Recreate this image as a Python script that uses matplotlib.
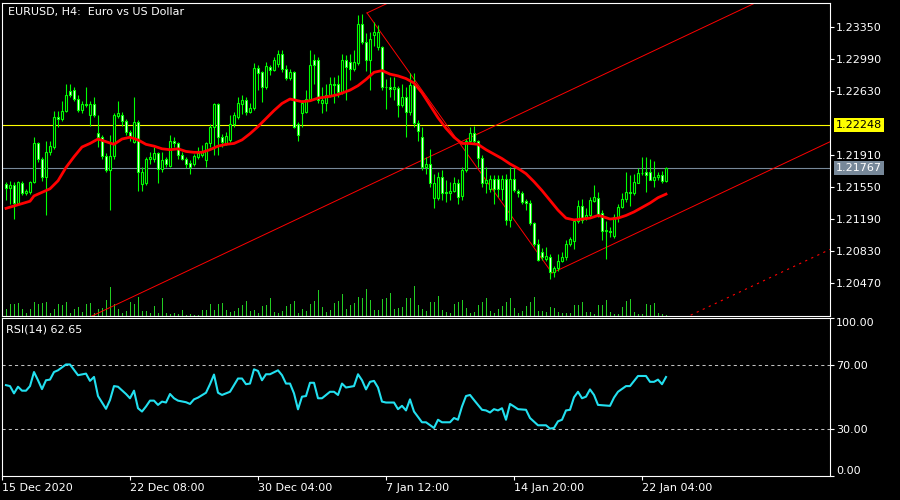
import numpy as np
import matplotlib.pyplot as plt
from matplotlib.transforms import blended_transform_factory

# EURUSD H4 candles, one row per bar (open, close, high, low) in pips of 1.0000
ohlc_pips = [
    (12158, 12154, 12161, 12140), (12154, 12157, 12162, 12136), (12157, 12137, 12161, 12119),
    (12137, 12161, 12162, 12135), (12160, 12148, 12162, 12146), (12148, 12150, 12153, 12146),
    (12149, 12161, 12162, 12147), (12161, 12205, 12211, 12159), (12205, 12186, 12206, 12183),
    (12186, 12166, 12189, 12162), (12166, 12194, 12207, 12123), (12194, 12201, 12207, 12191),
    (12200, 12234, 12241, 12198), (12234, 12231, 12241, 12222), (12231, 12241, 12252, 12229),
    (12241, 12258, 12271, 12239), (12263, 12259, 12271, 12256), (12264, 12254, 12268, 12252),
    (12254, 12242, 12258, 12239), (12242, 12248, 12252, 12238), (12248, 12247, 12268, 12245),
    (12236, 12248, 12252, 12224), (12248, 12236, 12256, 12234), (12216, 12211, 12236, 12200),
    (12211, 12190, 12213, 12186), (12190, 12174, 12193, 12172), (12174, 12190, 12213, 12129),
    (12190, 12236, 12238, 12187), (12235, 12238, 12252, 12233), (12236, 12229, 12239, 12224),
    (12229, 12217, 12232, 12213), (12217, 12211, 12219, 12207), (12206, 12228, 12256, 12204),
    (12228, 12172, 12230, 12151), (12158, 12172, 12177, 12150), (12159, 12186, 12189, 12157),
    (12186, 12189, 12194, 12181), (12186, 12193, 12200, 12183), (12193, 12175, 12194, 12159),
    (12175, 12185, 12194, 12172), (12186, 12181, 12189, 12178), (12179, 12207, 12213, 12178),
    (12207, 12204, 12211, 12200), (12204, 12191, 12206, 12187), (12191, 12187, 12194, 12185),
    (12187, 12181, 12189, 12176), (12182, 12178, 12185, 12170), (12181, 12190, 12192, 12179),
    (12189, 12193, 12200, 12187), (12191, 12194, 12202, 12189), (12185, 12204, 12206, 12178),
    (12204, 12223, 12226, 12200), (12223, 12248, 12249, 12191), (12248, 12211, 12249, 12191),
    (12211, 12206, 12215, 12200), (12205, 12212, 12217, 12202), (12208, 12226, 12236, 12206),
    (12226, 12236, 12239, 12223), (12234, 12249, 12256, 12232), (12248, 12253, 12258, 12237),
    (12253, 12239, 12256, 12236), (12239, 12244, 12249, 12238), (12244, 12289, 12294, 12242),
    (12289, 12283, 12292, 12264), (12284, 12267, 12286, 12251), (12267, 12291, 12296, 12265),
    (12290, 12287, 12292, 12281), (12287, 12298, 12301, 12286), (12293, 12305, 12309, 12290),
    (12305, 12288, 12309, 12284), (12288, 12278, 12292, 12275), (12278, 12284, 12288, 12275),
    (12284, 12223, 12286, 12221), (12226, 12214, 12228, 12207), (12238, 12249, 12253, 12223),
    (12239, 12254, 12264, 12238), (12254, 12292, 12309, 12253), (12298, 12292, 12305, 12271),
    (12298, 12253, 12301, 12249), (12249, 12253, 12267, 12238), (12249, 12258, 12271, 12241),
    (12258, 12271, 12279, 12256), (12271, 12270, 12279, 12249), (12271, 12262, 12281, 12256),
    (12262, 12298, 12305, 12260), (12298, 12290, 12303, 12253), (12296, 12288, 12305, 12275),
    (12288, 12296, 12309, 12286), (12295, 12338, 12348, 12292), (12338, 12318, 12350, 12316),
    (12318, 12298, 12328, 12286), (12298, 12322, 12329, 12264), (12326, 12329, 12341, 12314),
    (12312, 12329, 12337, 12309), (12312, 12268, 12314, 12264), (12267, 12267, 12277, 12243),
    (12267, 12265, 12279, 12256), (12265, 12268, 12279, 12253), (12266, 12247, 12269, 12234),
    (12247, 12256, 12271, 12245), (12256, 12239, 12267, 12211), (12239, 12270, 12283, 12236),
    (12270, 12227, 12283, 12223), (12227, 12218, 12230, 12207), (12211, 12177, 12223, 12174),
    (12177, 12181, 12189, 12170), (12181, 12159, 12198, 12155), (12143, 12159, 12170, 12131),
    (12143, 12166, 12172, 12140), (12166, 12148, 12174, 12140), (12149, 12148, 12163, 12138),
    (12148, 12151, 12161, 12140), (12151, 12160, 12166, 12149), (12160, 12144, 12164, 12136),
    (12145, 12174, 12177, 12140), (12174, 12207, 12209, 12172), (12207, 12216, 12222, 12206),
    (12216, 12207, 12224, 12204), (12207, 12188, 12208, 12177), (12188, 12160, 12191, 12155),
    (12160, 12163, 12177, 12148), (12153, 12164, 12168, 12149), (12164, 12153, 12168, 12136),
    (12164, 12153, 12168, 12144), (12153, 12164, 12168, 12140), (12164, 12118, 12170, 12112),
    (12118, 12164, 12177, 12110), (12164, 12152, 12176, 12149), (12151, 12148, 12153, 12144),
    (12148, 12138, 12151, 12136), (12139, 12137, 12142, 12129), (12137, 12114, 12140, 12112),
    (12114, 12091, 12116, 12089), (12091, 12073, 12097, 12072), (12082, 12076, 12086, 12073),
    (12074, 12077, 12087, 12072), (12076, 12059, 12080, 12052), (12059, 12064, 12066, 12054),
    (12064, 12072, 12080, 12061), (12072, 12076, 12082, 12071), (12076, 12091, 12095, 12073),
    (12091, 12096, 12099, 12089), (12094, 12117, 12119, 12085), (12117, 12134, 12140, 12114),
    (12134, 12118, 12142, 12114), (12121, 12124, 12131, 12118), (12124, 12140, 12144, 12121),
    (12139, 12144, 12157, 12138), (12143, 12125, 12149, 12121), (12126, 12106, 12129, 12095),
    (12106, 12106, 12117, 12074), (12106, 12104, 12110, 12099), (12100, 12121, 12125, 12098),
    (12121, 12133, 12136, 12116), (12132, 12141, 12148, 12131), (12141, 12149, 12172, 12138),
    (12149, 12148, 12168, 12134), (12148, 12161, 12170, 12146), (12160, 12171, 12176, 12159),
    (12171, 12171, 12189, 12168), (12172, 12169, 12189, 12149), (12172, 12163, 12186, 12163),
    (12163, 12166, 12184, 12155), (12166, 12169, 12172, 12163), (12169, 12162, 12173, 12160),
    (12162, 12176.7, 12177, 12161),
]

tick_volume = [
    7, 12, 12, 13, 7, 3, 7, 14, 12, 13,
    14, 3, 7, 12, 11, 14, 3, 7, 9, 4,
    12, 13, 3, 7, 8, 16, 29, 12, 7, 3,
    5, 14, 12, 19, 5, 5, 3, 10, 3, 18,
    3, 2, 3, 2, 6, 1, 2, 1, 1, 6,
    6, 12, 6, 12, 13, 6, 4, 5, 8, 11,
    15, 5, 6, 3, 10, 11, 18, 4, 3, 5,
    10, 12, 15, 3, 7, 5, 12, 15, 26, 9,
    4, 6, 13, 15, 22, 7, 11, 13, 19, 18,
    27, 16, 6, 6, 17, 18, 23, 7, 8, 9,
    18, 18, 30, 11, 7, 5, 14, 14, 20, 6,
    4, 3, 12, 14, 16, 8, 3, 4, 11, 14,
    18, 5, 3, 7, 10, 14, 18, 8, 3, 5,
    10, 14, 19, 5, 5, 4, 9, 8, 4, 3,
    3, 3, 11, 11, 14, 4, 4, 2, 11, 11,
    16, 4, 2, 2, 9, 15, 17, 4, 2, 2,
    12, 11, 13, 3, 2, 1,
]

# moving average (red line)
ma_bar = [0, 3, 6, 7, 9, 11, 13, 15, 17, 19, 21, 23, 25, 27, 29, 31, 33, 35, 37, 39,
          41, 43, 45, 47, 49, 51, 53, 55, 57, 59, 61, 63, 65, 67, 69, 71, 73, 74, 76, 78,
          81, 83, 86, 88, 90, 92, 94, 96, 98, 100, 102, 104, 106, 108, 110, 112, 114, 116,
          118, 120, 122, 124, 126, 128, 130, 132, 134, 136, 138, 140, 142, 144, 146, 148,
          149, 151, 153, 155, 157, 159, 161, 163, 165]
ma_pips = [12131, 12135, 12139, 12145, 12149, 12153, 12162, 12177, 12189, 12200, 12204, 12209,
           12206, 12203, 12209, 12211, 12208, 12203, 12201, 12198, 12197, 12198, 12195, 12194,
           12194, 12197, 12201, 12203, 12204, 12208, 12215, 12223, 12232, 12241, 12249, 12254,
           12252, 12251, 12252, 12255, 12257, 12259, 12264, 12269, 12276, 12284, 12286, 12282,
           12280, 12277, 12272, 12261, 12247, 12233, 12221, 12211, 12204, 12204, 12203, 12197,
           12192, 12187, 12181, 12176, 12170, 12161, 12151, 12140, 12129, 12120, 12118, 12119,
           12120, 12123, 12122, 12119, 12120, 12123, 12127, 12132, 12137, 12143, 12147]

rsi_bar = [0, 1, 2, 3, 4, 5, 6, 7, 8, 9, 10, 11, 12, 13, 15, 16, 18, 20, 21, 22, 23, 25, 26,
           27, 28, 30, 31, 32, 33, 34, 35, 36, 37, 38, 39, 40, 41, 42, 43, 45, 46, 47, 48, 50,
           51, 52, 53, 54, 56, 57, 58, 59, 60, 61, 62, 63, 64, 65, 66, 68, 69, 70, 71, 72, 73,
           74, 75, 76, 77, 78, 79, 81, 82, 83, 84, 85, 87, 88, 89, 90, 91, 92, 93, 94, 95, 97,
           98, 99, 100, 101, 102, 104, 105, 107, 108, 109, 111, 112, 113, 114, 115, 116, 117,
           119, 120, 121, 122, 123, 124, 125, 126, 127, 128, 130, 131, 133, 135, 136, 137, 138,
           139, 140, 141, 142, 143, 144, 145, 146, 147, 148, 151, 152, 153, 155, 156, 158, 160,
           161, 162, 163, 164, 165]
rsi_val = [57.5, 56.9, 52.3, 56.5, 54.0, 54.0, 56.9, 65.8, 60.6, 55.0, 60.6, 61.0, 65.8, 66.9,
           70.6, 70.6, 63.8, 64.8, 60.2, 62.7, 50.6, 42.5, 48.1, 56.9, 56.5, 51.9, 49.2, 54.0,
           42.9, 40.8, 44.0, 47.7, 47.7, 45.0, 47.1, 46.5, 51.9, 49.2, 47.7, 46.7, 45.6, 48.5,
           49.6, 52.7, 58.1, 64.2, 52.7, 51.3, 53.3, 57.5, 61.7, 61.7, 58.1, 58.5, 67.5, 66.5,
           60.6, 64.4, 64.4, 66.9, 63.8, 58.5, 58.5, 52.3, 42.2, 50.2, 50.6, 59.0, 59.0, 49.2,
           49.2, 53.3, 53.3, 51.3, 58.5, 56.0, 56.9, 64.4, 60.6, 54.8, 59.6, 60.2, 56.0, 47.1,
           46.5, 46.5, 42.3, 44.4, 41.5, 48.5, 40.8, 34.0, 34.0, 30.4, 35.6, 34.0, 34.0, 36.7,
           35.6, 44.0, 50.6, 51.3, 48.1, 41.9, 41.5, 40.2, 42.3, 41.5, 42.9, 35.6, 45.6, 44.0,
           42.3, 41.9, 36.7, 32.1, 32.1, 30.0, 30.4, 34.6, 35.6, 41.5, 41.9, 49.8, 53.3, 49.2,
           50.2, 54.8, 51.3, 45.0, 44.4, 49.6, 53.3, 56.9, 56.9, 63.3, 63.3, 59.6, 59.6, 61.0,
           58.1, 62.65]

# price channel objects: (start bar, start price), slope per bar
channel_slope = 0.0002124
channel_lines = [(90.25, 1.23508), (-1.0, 1.19621), (136.5, 1.20583)]
channel_dotted = (136.5, 1.19372)
diag_bar = [90.25, 136.5]
diag_price = [1.23508, 1.20583]

level_price = 1.22248
price_ticks = [1.23350, 1.22990, 1.22630, 1.21910, 1.21550, 1.21190, 1.20830, 1.20470]
date_bar = [-1, 31, 63, 95, 127, 159]
date_labels = ['15 Dec 2020', '22 Dec 08:00', '30 Dec 04:00', '7 Jan 12:00',
               '14 Jan 20:00', '22 Jan 04:00']

o, c, h, l = (np.array(col) / 10000 for col in zip(*ohlc_pips))
bars = np.arange(len(c))
last = c[-1]

GREEN = '#00ff00'
plt.rcParams['font.family'] = ['DejaVu Sans']


def box(x0, y0, x1, y1):
    return [x0 / 900, 1 - y1 / 500, (x1 - x0) / 900, (y1 - y0) / 500]


fig = plt.figure(figsize=(9, 5), dpi=100, facecolor='black')
vol_ax = fig.add_axes(box(2, 3, 830, 316))
ax = fig.add_axes(box(2, 3, 830, 316), sharex=vol_ax)
rsi_ax = fig.add_axes(box(2, 318, 830, 476), sharex=vol_ax)

vol_ax.set_facecolor('black')
vol_ax.bar(bars, tick_volume, width=0.25, color='#22cc22', linewidth=0)
vol_ax.set_ylim(0, 313)
vol_ax.axis('off')

ax.patch.set_alpha(0)
ax.axhline(level_price, color='#ffff00', lw=0.8, zorder=1)
ax.axhline(last, color='#778899', lw=0.8, zorder=1)

xr = 206
for b0, p0 in channel_lines:
    ax.plot([b0, xr], [p0, p0 + channel_slope * (xr - b0)], color='red', lw=0.7, zorder=2)
b0, p0 = channel_dotted
ax.plot([b0, xr], [p0, p0 + channel_slope * (xr - b0)], color='red', lw=0.8,
        ls=(0, (2, 4)), zorder=2)
ax.plot(diag_bar, diag_price, color='red', lw=0.7, zorder=2)

ax.vlines(bars, l, h, colors=GREEN, lw=0.8, zorder=3)
fills = np.where(c >= o, 'black', 'white')
ax.bar(bars, np.maximum(np.abs(c - o), 0.00002), bottom=np.minimum(o, c), width=0.6,
       color=fills, edgecolor=GREEN, linewidth=0.8, zorder=4)
ax.plot(ma_bar, np.array(ma_pips) / 10000, color='red', lw=2.0, zorder=5)

ax.set_xlim(-1, 206)
ax.set_ylim(1.20099, 1.23620)
ax.yaxis.tick_right()
ax.set_yticks(price_ticks, [f'{p:.5f}' for p in price_ticks])
ax.tick_params(axis='y', colors='white', length=3, width=0.8, pad=1.5, labelsize=8)
ax.tick_params(axis='x', bottom=False, labelbottom=False)

trans = blended_transform_factory(ax.transAxes, ax.transData)
ax.text(1.0072, level_price, f'{level_price:.5f}', transform=trans, color='black', fontsize=8,
        va='center', ha='left', clip_on=False, zorder=10,
        bbox=dict(boxstyle='square,pad=0.18', fc='#ffff00', ec='none'))
ax.text(1.0072, last, f'{last:.5f}', transform=trans, color='white', fontsize=8,
        va='center', ha='left', clip_on=False, zorder=10,
        bbox=dict(boxstyle='square,pad=0.18', fc='#778899', ec='none'))

rsi_ax.set_facecolor('black')
rsi_ax.axhline(70, color='#c0c0c0', lw=0.75, ls=(0, (3, 3)))
rsi_ax.axhline(30, color='#c0c0c0', lw=0.75, ls=(0, (3, 3)))
rsi_ax.plot(rsi_bar, rsi_val, color='#22e0f0', lw=1.5)
rsi_ax.set_ylim(0, 100)
rsi_ax.yaxis.tick_right()
rsi_ax.set_yticks([0, 30, 70, 100], ['0.00', '30.00', '70.00', '100.00'])
rsi_ax.tick_params(axis='y', colors='white', length=3, width=0.8, pad=1.5, labelsize=8)
ylabels = rsi_ax.get_yticklabels()
ylabels[0].set_va('bottom')
ylabels[-1].set_va('top')
rsi_ax.set_xticks(date_bar, date_labels)
rsi_ax.tick_params(axis='x', colors='white', length=3, width=0.8, pad=2, labelsize=8)
for lbl in rsi_ax.get_xticklabels():
    lbl.set_horizontalalignment('left')

for a in (ax, rsi_ax):
    for s in a.spines.values():
        s.set_color('white')
        s.set_linewidth(0.8)

fig.text(8 / 900, 1 - 12 / 500, 'EURUSD, H4:  Euro vs US Dollar', color='white', fontsize=8,
         va='center', ha='left')
fig.text(6 / 900, 1 - 330 / 500, f'RSI(14) {rsi_val[-1]:.2f}', color='white', fontsize=8,
         va='center', ha='left')

fig.savefig('out.png', dpi=100, facecolor='black')
